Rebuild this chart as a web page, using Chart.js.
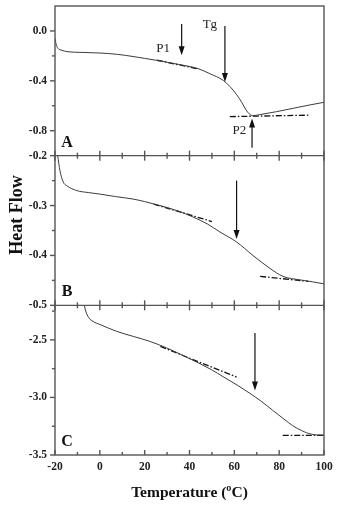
<!DOCTYPE html>
<html>
<head>
<meta charset="utf-8">
<script src="https://cdn.jsdelivr.net/npm/chart.js@4.4.1/dist/chart.umd.min.js"></script>
<style>
  html, body { margin: 0; padding: 0; background: #fff; }
</style>
</head>
<body>
<canvas id="dsc" width="339" height="505"></canvas>
<script>
// run A
var tempA = [-20, -19.5, -18.7, -16.9, -14.6, -8, 0, 8, 14.8, 20, 26.8, 35, 43.8, 49.1, 55.1, 58, 61, 63.3, 65.2, 66.7, 68.2, 71.4, 78.9, 86.3, 93.8, 100];
var heatA = [-0.06, -0.106, -0.139, -0.155, -0.166, -0.172, -0.177, -0.188, -0.205, -0.22, -0.24, -0.268, -0.302, -0.343, -0.397, -0.445, -0.51, -0.572, -0.633, -0.665, -0.679, -0.671, -0.647, -0.62, -0.593, -0.572];
// run B
var tempB = [-18.8, -17.8, -16.3, -14.8, -10.3, -5, 0, 7, 14.8, 20, 26.8, 35, 41.6, 48, 53.6, 61, 68.3, 75.9, 81.7, 89.3, 95, 100];
var heatB = [-0.2, -0.23, -0.253, -0.26, -0.27, -0.274, -0.277, -0.282, -0.287, -0.292, -0.3, -0.311, -0.323, -0.337, -0.353, -0.373, -0.4, -0.426, -0.442, -0.449, -0.453, -0.457];
// run C
var tempC = [-6.9, -6.3, -5, -3, 0.1, 7.5, 14.9, 22.3, 29.8, 38, 49.9, 55, 61.8, 67, 72.2, 77, 82.6, 86, 90, 94.5, 100];
var heatC = [-2.2, -2.25, -2.305, -2.34, -2.367, -2.426, -2.47, -2.513, -2.57, -2.644, -2.76, -2.82, -2.899, -2.965, -3.036, -3.11, -3.195, -3.245, -3.288, -3.32, -3.328];

// baselines (dash-dot)
var lineA1T = [25.5, 43.8], lineA1H = [-0.235, -0.304];
var lineA2T = [58, 93.8],   lineA2H = [-0.687, -0.675];
var lineB1T = [24, 50],     lineB1H = [-0.297, -0.332];
var lineB2T = [71.5, 93],   lineB2H = [-0.442, -0.452];
var lineC1T = [27, 61],     lineC1H = [-2.557, -2.823];
var lineC2T = [81.6, 100],  lineC2H = [-3.33, -3.33];

// tick values
var xTicks = [-20, -10, 0, 10, 20, 30, 40, 50, 60, 70, 80, 90, 100];
var ticksA = [-0.8, -0.6, -0.4, -0.2, 0.0];
var labelsA = [-0.8, -0.4, 0.0];
var ticksB = [-0.5, -0.45, -0.4, -0.35, -0.3, -0.25, -0.2];
var labelsB = [-0.5, -0.4, -0.3, -0.2];
var ticksC = [-3.5, -3.25, -3.0, -2.75, -2.5, -2.25];
var labelsC = [-3.5, -3.0, -2.5];

// arrows: temperature, start value, end value (head at end)
var arrowAxis = ['yA', 'yA', 'yA', 'yB', 'yC'];
var arrowT    = [36.5, 55.8, 67.9, 61, 69.2];
var arrowFrom = [0.055, 0.039, -0.937, -0.25, -2.44];
var arrowTo   = [-0.195, -0.41, -0.703, -0.367, -2.94];

// text marks
var noteAxis = ['yA', 'yA', 'yA'];
var noteText = ['P1', 'Tg', 'P2'];
var noteT    = [28.2, 49.1, 62.3];
var noteH    = [-0.139, 0.055, -0.80];
var panelText = ['A', 'B', 'C'];
var panelAxis = ['yA', 'yB', 'yC'];
var panelT    = [-14.6, -14.6, -14.6];
var panelH    = [-0.897, -0.472, -3.382];

var serif = '"Liberation Serif", "Times New Roman", serif';

function pts(xs, ys) {
  return xs.map(function(x, i) { return {x: x, y: ys[i]}; });
}
function curve(label, xs, ys, axis) {
  return {label: label, data: pts(xs, ys), yAxisID: axis, borderColor: '#3c3c3c', borderWidth: 1,
    pointRadius: 0, cubicInterpolationMode: 'monotone', fill: false};
}
function baseline(label, xs, ys, axis) {
  return {label: label, data: pts(xs, ys), yAxisID: axis, borderColor: '#111', borderWidth: 1.3,
    borderDash: [6, 2, 1.5, 2], pointRadius: 0, fill: false};
}
function yScale(min, max, ticks, labels) {
  return {
    type: 'linear', position: 'left', stack: 'hf', stackWeight: 1, min: min, max: max,
    afterBuildTicks: function(s) { s.ticks = ticks.map(function(v) { return {value: v}; }); },
    afterFit: function(s) { s.width = 55; s.paddingTop = 0; s.paddingBottom = 0; },
    ticks: {
      autoSkip: false, padding: 8, color: '#222',
      font: {family: serif, size: 11.5, weight: 'bold'},
      callback: function(v) {
        return labels.some(function(l) { return Math.abs(l - v) < 1e-6; }) ? v.toFixed(1) : '';
      }
    },
    grid: {display: false, drawTicks: false},
    border: {display: false}
  };
}

function line(ctx, x1, y1, x2, y2) {
  ctx.beginPath(); ctx.moveTo(x1, y1); ctx.lineTo(x2, y2); ctx.stroke();
}

var panelFrame = {
  id: 'panelFrame',
  afterDatasetsDraw: function(chart) {
    var ctx = chart.ctx, x = chart.scales.x, area = chart.chartArea;
    var panels = [chart.scales.yA, chart.scales.yB, chart.scales.yC];
    ctx.save();
    ctx.strokeStyle = '#555';
    ctx.lineWidth = 1.4;
    ctx.strokeRect(area.left, area.top, area.right - area.left, area.bottom - area.top);
    panels.forEach(function(s, i) {
      if (i > 0) line(ctx, area.left, s.top, area.right, s.top);
      s.ticks.forEach(function(t) {
        var y = s.getPixelForValue(t.value);
        var len = t.label !== '' ? 5 : 3;
        line(ctx, area.left - len, y, area.left, y);
      });
      xTicks.forEach(function(v) {
        var px = x.getPixelForValue(v);
        var len = v % 20 === 0 ? 5 : 3;
        line(ctx, px, s.bottom, px, s.bottom - len);
        if (i > 0) line(ctx, px, s.top, px, s.top + len);
      });
    });

    // arrows
    ctx.strokeStyle = '#111';
    ctx.fillStyle = '#111';
    ctx.lineWidth = 1.2;
    arrowT.forEach(function(t, i) {
      var s = chart.scales[arrowAxis[i]];
      var px = x.getPixelForValue(t);
      var y1 = s.getPixelForValue(arrowFrom[i]);
      var y2 = s.getPixelForValue(arrowTo[i]);
      var dir = y2 > y1 ? 1 : -1;
      line(ctx, px, y1, px, y2 - dir * 6);
      ctx.beginPath();
      ctx.moveTo(px, y2);
      ctx.lineTo(px - 3, y2 - dir * 9);
      ctx.lineTo(px + 3, y2 - dir * 9);
      ctx.closePath();
      ctx.fill();
    });

    // notes
    ctx.textAlign = 'center';
    ctx.textBaseline = 'middle';
    ctx.fillStyle = '#222';
    ctx.font = '13px ' + serif;
    noteText.forEach(function(txt, i) {
      var s = chart.scales[noteAxis[i]];
      ctx.fillText(txt, x.getPixelForValue(noteT[i]), s.getPixelForValue(noteH[i]));
    });
    ctx.font = 'bold 16px ' + serif;
    ctx.fillStyle = '#111';
    panelText.forEach(function(txt, i) {
      var s = chart.scales[panelAxis[i]];
      ctx.fillText(txt, x.getPixelForValue(panelT[i]), s.getPixelForValue(panelH[i]));
    });

    // y title
    ctx.translate(17.5, 215);
    ctx.rotate(-Math.PI / 2);
    ctx.font = 'bold 18px ' + serif;
    ctx.fillText('Heat Flow', 0, 0);
    ctx.restore();
  }
};

new Chart(document.getElementById('dsc'), {
  type: 'line',
  data: {
    datasets: [
      curve('A', tempA, heatA, 'yA'),
      baseline('A P1', lineA1T, lineA1H, 'yA'),
      baseline('A P2', lineA2T, lineA2H, 'yA'),
      curve('B', tempB, heatB, 'yB'),
      baseline('B 1', lineB1T, lineB1H, 'yB'),
      baseline('B 2', lineB2T, lineB2H, 'yB'),
      curve('C', tempC, heatC, 'yC'),
      baseline('C 1', lineC1T, lineC1H, 'yC'),
      baseline('C 2', lineC2T, lineC2H, 'yC')
    ]
  },
  options: {
    responsive: false,
    animation: false,
    layout: {padding: {top: 6, right: 15, left: 0, bottom: 0}},
    plugins: {legend: {display: false}, tooltip: {enabled: false}},
    scales: {
      x: {
        type: 'linear', position: 'bottom', min: -20, max: 100,
        afterBuildTicks: function(s) { s.ticks = xTicks.map(function(v) { return {value: v}; }); },
        afterFit: function(s) { s.height = 50; },
        ticks: {
          autoSkip: false, maxRotation: 0, padding: 5, color: '#222',
          font: {family: serif, size: 11.5, weight: 'bold'},
          callback: function(v) { return v % 20 === 0 ? String(v) : ''; }
        },
        grid: {display: false, drawTicks: false},
        border: {display: false},
        title: {
          display: true, text: 'Temperature (ºC)', color: '#111',
          font: {family: serif, size: 15.5, weight: 'bold'},
          padding: {top: 3, bottom: 3}
        }
      },
      // last defined left axis is placed on top of the stack
      yC: yScale(-3.5, -2.2, ticksC, labelsC),
      yB: yScale(-0.5, -0.2, ticksB, labelsB),
      yA: yScale(-1.0, 0.2, ticksA, labelsA)
    }
  },
  plugins: [panelFrame]
});
</script>
</body>
</html>
